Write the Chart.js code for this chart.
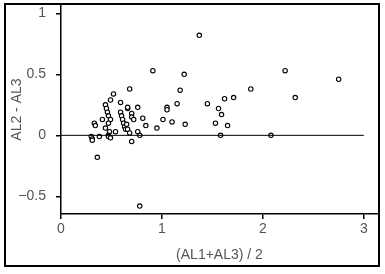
<!DOCTYPE html>
<html>
<head>
<meta charset="utf-8">
<script src="https://cdn.jsdelivr.net/npm/chart.js@4.4.1/dist/chart.umd.min.js"></script>
<style>
  html, body { margin: 0; padding: 0; background: #fff; }
  #wrap { width: 385px; height: 274px; }
</style>
</head>
<body>
<div id="wrap"><canvas id="chart" width="385" height="274"></canvas></div>
<script>
// mean of AL1 and AL3 (x) against AL2 - AL3 (y)
const meanVals = [
  0.30, 0.31, 0.31, 0.33, 0.34, 0.36, 0.38, 0.41, 0.44, 0.44,
  0.45, 0.46, 0.47, 0.48, 0.49, 0.49, 0.47, 0.47, 0.47, 0.49,
  0.52, 0.54, 0.59, 0.59, 0.60, 0.61, 0.62, 0.63, 0.64, 0.65,
  0.66, 0.66, 0.66, 0.68, 0.68, 0.70, 0.70, 0.72, 0.76, 0.76,
  0.78, 0.70, 0.78, 0.81, 0.84, 0.91, 0.95, 1.01, 1.05, 1.05,
  1.10, 1.15, 1.18, 1.22, 1.23, 1.37, 1.45, 1.53, 1.56, 1.58,
  1.59, 1.62, 1.65, 1.71, 1.88, 2.08, 2.22, 2.32, 2.75
];
const diffVals = [
  -0.01, -0.03, -0.04, 0.10, 0.08, -0.18, -0.01, 0.13, 0.25, 0.06,
  0.22, 0.19, 0.16, 0.03, 0.13, 0.29, 0.00, -0.01, 0.10, -0.02,
  0.34, 0.03, 0.27, 0.19, 0.16, 0.13, 0.10, 0.07, 0.05, 0.09,
  0.22, 0.23, 0.05, 0.38, 0.02, 0.18, 0.15, 0.13, 0.23, 0.03,
  0.00, -0.05, -0.58, 0.14, 0.08, 0.53, 0.06, 0.13, 0.23, 0.21,
  0.11, 0.26, 0.37, 0.50, 0.09, 0.82, 0.26, 0.10, 0.22, 0.00,
  0.17, 0.30, 0.08, 0.31, 0.38, 0.00, 0.53, 0.31, 0.46
];
const zeroLineX = [0, 3];
const xTicks = [0, 1, 2, 3];
const yTicks = [-0.5, 0, 0.5, 1];
const xTitle = '(AL1+AL3) / 2';
const yTitle = 'AL2 - AL3';

const points = meanVals.map((x, i) => ({ x: x, y: diffVals[i] }));
const zeroLine = zeroLineX.map(x => ({ x: x, y: 0 }));

const tickFont = { family: '"Liberation Sans Narrow", "Liberation Sans", Arial, sans-serif', size: 14 };
const grey = '#555';

// outer frame round the whole figure
const framePlugin = {
  id: 'frame',
  afterDraw(chart) {
    const ctx = chart.ctx;
    ctx.save();
    ctx.strokeStyle = '#000';
    ctx.lineWidth = 2;
    ctx.strokeRect(5, 4, 374, 262);
    ctx.restore();
  }
};

new Chart(document.getElementById('chart'), {
  type: 'scatter',
  data: {
    datasets: [
      {
        label: 'zero',
        type: 'line',
        data: zeroLine,
        borderColor: '#000',
        borderWidth: 1,
        pointRadius: 0,
        fill: false
      },
      {
        label: 'diff',
        data: points,
        pointStyle: 'circle',
        pointRadius: 2.2,
        pointBorderWidth: 1.1,
        pointBackgroundColor: '#fff',
        pointBorderColor: '#000'
      }
    ]
  },
  plugins: [framePlugin],
  options: {
    responsive: false,
    animation: false,
    layout: { padding: { left: 0, top: 5, right: 7, bottom: 0 } },
    plugins: {
      legend: { display: false },
      tooltip: { enabled: false }
    },
    scales: {
      x: {
        type: 'linear',
        min: 0,
        max: 3.14,
        afterBuildTicks: (scale) => { scale.ticks = xTicks.map(v => ({ value: v })); },
        afterFit: (scale) => {
          scale.height = 60;
          scale.paddingLeft = 0;
          scale.paddingRight = 0;
        },
        border: { display: true, color: '#000', width: 1.5 },
        grid: { drawOnChartArea: false, drawTicks: true, tickLength: 5, color: '#000', lineWidth: 1.5 },
        ticks: { color: grey, font: tickFont, padding: 2, maxRotation: 0 },
        title: { display: true, text: xTitle, color: grey, font: tickFont, padding: { top: 10, bottom: 10 } }
      },
      y: {
        type: 'linear',
        min: -0.645,
        max: 1.068,
        afterBuildTicks: (scale) => { scale.ticks = yTicks.map(v => ({ value: v })); },
        afterFit: (scale) => {
          scale.width = 61;
          scale.paddingTop = 0;
          scale.paddingBottom = 0;
        },
        border: { display: true, color: '#000', width: 1.5 },
        grid: { drawOnChartArea: false, drawTicks: true, tickLength: 5, color: '#000', lineWidth: 1.5 },
        ticks: {
          color: grey,
          font: tickFont,
          padding: 10,
          callback: (v) => (v < 0 ? '\u2212' + Math.abs(v) : String(v))
        },
        title: { display: true, text: yTitle, color: grey, font: tickFont, padding: { top: 9, bottom: 9 } }
      }
    }
  }
});
</script>
</body>
</html>
